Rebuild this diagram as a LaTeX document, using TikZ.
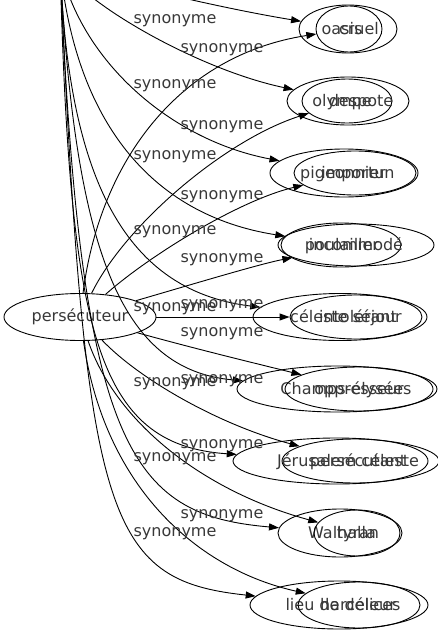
\documentclass[tikz,border=0pt]{standalone}
\usepackage{fontspec}
\setmainfont{DejaVu Sans}
\usetikzlibrary{arrows.meta,shapes.geometric}
\tikzset{
  every node/.style={font=\fontsize{16}{19}\selectfont, text=black!78},
  oval/.style={draw=black, ellipse, inner sep=0pt, line width=0.9pt},
  word/.style={inner sep=0pt, text height=12pt, text depth=2pt},
  syn/.style={inner sep=0pt},
  rel/.style={line width=0.9pt, -{Triangle[length=10pt,width=7pt]}},
}

\begin{document}
\begin{tikzpicture}[x=1pt,y=-1pt]
\useasboundingbox (0,0) rectangle (438,635);
\clip (0,0) rectangle (438,635);
% the other source sits above the frame
\coordinate (top) at (60,-35);
\node[oval, minimum width=152, minimum height=47] (hub) at (80,317) {persécuteur};
% outer ovals
\foreach \i/\x/\w/\h/\tx/\txt in {1/348/98/48/342/oasis, 2/348/122/48/342/olympe,
    3/344/148/48/343/pigeonnier, 4/341/120/44/342/poulailler,
    5/340/174/47/346/céleste séjour, 6/337/200/46/346/Champs-élysées,
    7/336/206/46/348/Jérusalem céleste, 8/340/124/48/342/Walhalla,
    9/339/178/48/343/lieu de délices} {
  \node[oval, minimum width=\w, minimum height=\h] (p\i) at (\x,{29+72*(\i-1)}) {};
  \node[word] (pw\i) at (\tx,{29+72*(\i-1)}) {\txt};
}
% inner ovals
\foreach \i/\x/\w/\h/\tx/\txt in {1/349/66/46/359/cruel, 2/347/90/44/361/despote,
    3/355/122/44/358/importun, 4/356/156/42/356/incommodé,
    5/356/132/44/358/intolérant, 6/359/148/44/359/oppresseur,
    7/355/146/44/358/persécutant, 8/357/86/46/358/tyran,
    9/359/122/46/358/harceleur} {
  \node[oval, minimum width=\w, minimum height=\h] (q\i) at (\x,{29+72*(\i-1)}) {};
  \node[word] (qw\i) at (\tx,{29+72*(\i-1)}) {\txt};
}
% edges from above
\draw[rel] (top) .. controls (110,-18) and (220,8) .. (p1);
\draw[rel] (top) .. controls (85,5) and (200,70) .. (p2);
\draw[rel] (top) .. controls (80,60) and (170,140) .. (p3);
\draw[rel] (top) .. controls (75,120) and (150,215) .. (p4);
\draw[rel] (top) .. controls (68,170) and (120,290) .. (p5);
\draw[rel] (top) .. controls (75,250) and (120,370) .. (p6);
\draw[rel] (top) .. controls (70,330) and (95,445) .. (p7);
\draw[rel] (top) .. controls (80,450) and (130,515) .. (p8);
\draw[rel] (top) .. controls (85,520) and (105,580) .. (p9);
% edges from persécuteur
\draw[rel] (hub) .. controls (100,160) and (180,55) .. (q1);
\draw[rel] (hub) .. controls (125,225) and (225,140) .. (q2);
\draw[rel] (hub) .. controls (150,255) and (240,200) .. (q3);
\draw[rel] (hub) .. controls (200,282) and (260,264) .. (q4);
\draw[rel] (hub) -- (q5);
\draw[rel] (hub) .. controls (200,350) and (250,362) .. (q6);
\draw[rel] (hub) .. controls (140,380) and (220,425) .. (q7);
\draw[rel] (hub) .. controls (115,420) and (200,490) .. (q8);
\draw[rel] (hub) .. controls (105,490) and (200,570) .. (q9);
% labels
\foreach \y [count=\k] in {21,86,157,232,309,384,459,534}
  \node[syn] (sp\k) at (175,\y) {synonyme};
\foreach \y [count=\k] in {50,127,197,260,306,334,381,446,516}
  \node[syn] (sq\k) at (222,\y) {synonyme};
\end{tikzpicture}
\end{document}
